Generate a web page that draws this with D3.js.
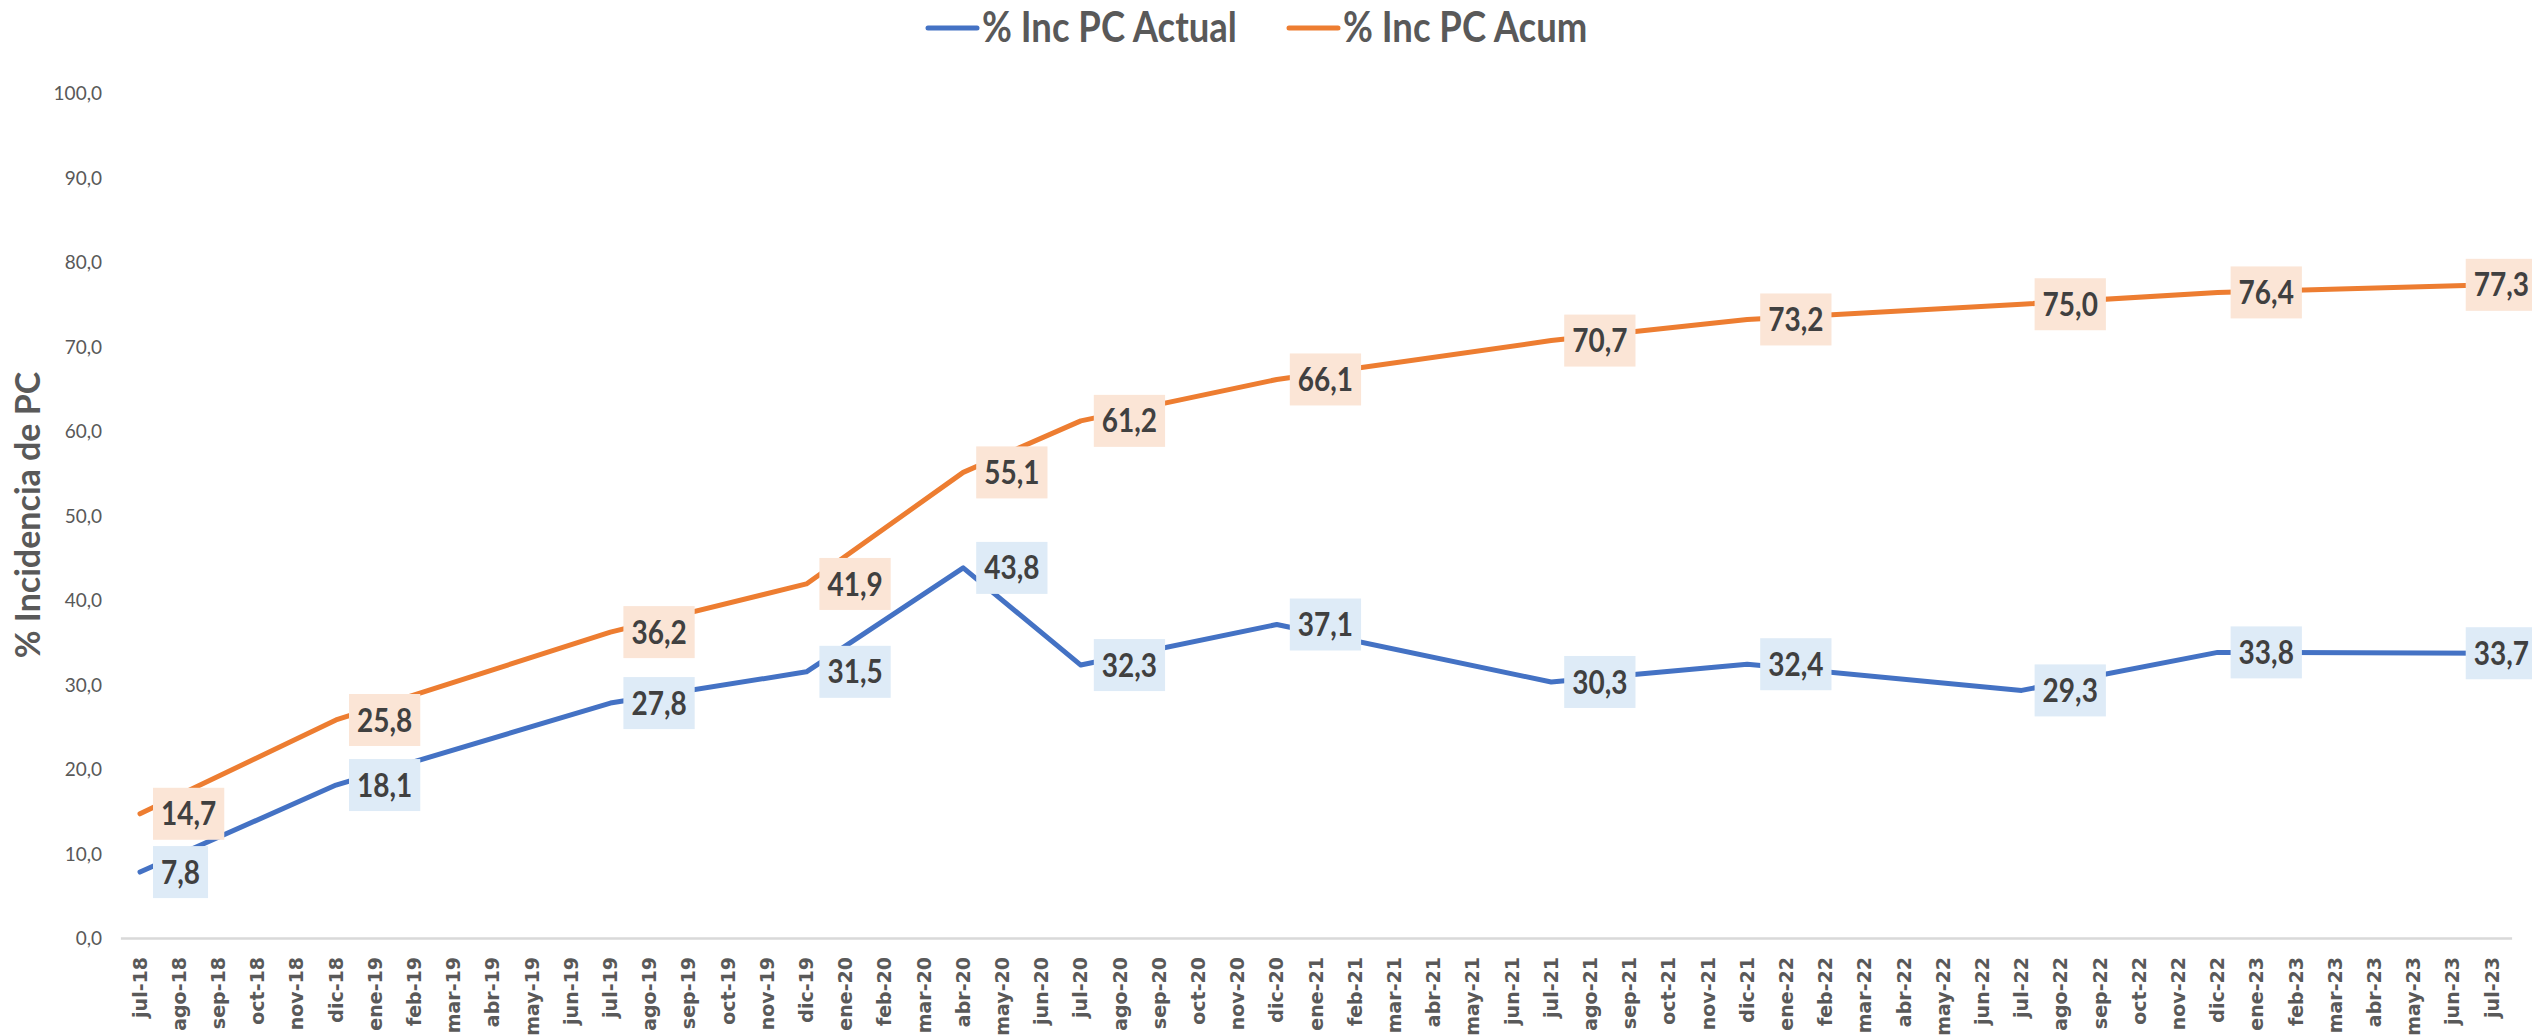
<!DOCTYPE html>
<html>
<head>
<meta charset="utf-8">
<script src="https://cdn.jsdelivr.net/npm/d3@7"></script>
<style>
  html, body { margin: 0; padding: 0; background: #fff; }
  svg { display: block; }
</style>
</head>
<body>
<svg id="chart" width="2532" height="1036"></svg>
<script>
// ---------- data ----------
const months = [
  "jul-18","ago-18","sep-18","oct-18","nov-18","dic-18",
  "ene-19","feb-19","mar-19","abr-19","may-19","jun-19","jul-19","ago-19","sep-19","oct-19","nov-19","dic-19",
  "ene-20","feb-20","mar-20","abr-20","may-20","jun-20","jul-20","ago-20","sep-20","oct-20","nov-20","dic-20",
  "ene-21","feb-21","mar-21","abr-21","may-21","jun-21","jul-21","ago-21","sep-21","oct-21","nov-21","dic-21",
  "ene-22","feb-22","mar-22","abr-22","may-22","jun-22","jul-22","ago-22","sep-22","oct-22","nov-22","dic-22",
  "ene-23","feb-23","mar-23","abr-23","may-23","jun-23","jul-23"
];
const pointMonths = ["jul-18","dic-18","jul-19","dic-19","abr-20","jul-20","dic-20","jul-21","dic-21","jul-22","dic-22","jul-23"];
const incActual = [7.8, 18.1, 27.8, 31.5, 43.8, 32.3, 37.1, 30.3, 32.4, 29.3, 33.8, 33.7];
const incAcum   = [14.7, 25.8, 36.2, 41.9, 55.1, 61.2, 66.1, 70.7, 73.2, 75.0, 76.4, 77.3];
const yTicks = [0, 10, 20, 30, 40, 50, 60, 70, 80, 90, 100];
const seriesNames = ["% Inc PC Actual", "% Inc PC Acum"];
const yTitle = "% Incidencia de PC";

// ---------- setup ----------
const svg = d3.select("#chart");
const W = 2532, H = 1036;
svg.append("rect").attr("width", W).attr("height", H).attr("fill", "#fff");

const plotL = 120.4, step = 39.2;
const x = d3.scaleBand().domain(months).range([plotL, plotL + step * months.length]).padding(0);
const y = d3.scaleLinear().domain([0, 100]).range([938, 93]);
const cx = m => x(m) + x.bandwidth() / 2;

const loc = d3.formatLocale({decimal: ",", thousands: ".", grouping: [3], currency: ["", ""]});
const fmt = loc.format(".1f");

const colors = { actual: "#4472C4", acum: "#ED7D31" };
const boxFill = { actual: "#DEEBF7", acum: "#FBE5D6" };
const gray = "#595959";

// ---------- y axis (labels only) ----------
const yAxis = d3.axisLeft(y).tickValues(yTicks).tickFormat(fmt).tickSize(0).tickPadding(0);
const gy = svg.append("g").attr("transform", "translate(102,0)").call(yAxis);
gy.select(".domain").remove();
gy.selectAll("text")
  .attr("font-family", "Lato, 'Open Sans', sans-serif")
  .attr("font-size", 19)
  .attr("fill", gray)
  .attr("dy", "0.36em");

// ---------- x axis ----------
const xAxis = d3.axisBottom(x).tickSize(0).tickPadding(0);
const gx = svg.append("g").attr("transform", "translate(0,938)").call(xAxis);
gx.select(".domain")
  .attr("stroke", "#D9D9D9")
  .attr("stroke-width", 2.5);
gx.selectAll("text")
  .attr("font-family", "'DejaVu Sans', Verdana, sans-serif")
  .attr("font-weight", "bold")
  .attr("font-size", 19)
  .attr("fill", gray)
  .attr("text-anchor", "end")
  .attr("dy", "0.35em")
  .attr("transform", "translate(0,19) rotate(-90)")
  .attr("y", 0)
  .attr("x", 0);

// ---------- y title ----------
svg.append("text")
  .attr("transform", "translate(40,515) rotate(-90)")
  .attr("text-anchor", "middle")
  .attr("font-family", "Lato, sans-serif")
  .attr("font-weight", "bold")
  .attr("font-size", 34)
  .attr("fill", gray)
  .text(yTitle);

// ---------- lines ----------
const line = d3.line().x(d => cx(d.m)).y(d => y(d.v));
const sActual = pointMonths.map((m, i) => ({ m, v: incActual[i] }));
const sAcum = pointMonths.map((m, i) => ({ m, v: incAcum[i] }));

[[sAcum, colors.acum], [sActual, colors.actual]].forEach(([data, col]) => {
  svg.append("path")
    .datum(data)
    .attr("d", line)
    .attr("fill", "none")
    .attr("stroke", col)
    .attr("stroke-width", 5)
    .attr("stroke-linejoin", "round")
    .attr("stroke-linecap", "round");
});

// ---------- data labels ----------
function drawLabels(data, fill) {
  data.forEach(d => {
    const px = cx(d.m), py = y(d.v);
    const g = svg.append("g");
    const rect = g.append("rect").attr("fill", fill);
    const t = g.append("text")
      .attr("font-family", "Lato, sans-serif")
      .attr("font-weight", "bold")
      .attr("font-size", 28)
      .attr("fill", "#404040")
      .attr("text-anchor", "middle")
      .attr("dy", "0.36em")
      .text(fmt(d.v));
    const tw = t.node().getComputedTextLength();
    const bw = tw + 16, bh = 52;
    const bx = Math.min(px + 13, 2537 - bw);
    rect.attr("x", bx).attr("y", py - bh / 2).attr("width", bw).attr("height", bh);
    t.attr("transform", `translate(${bx + bw / 2},${py}) scale(1,1.15)`);
  });
}
drawLabels(sAcum, boxFill.acum);
drawLabels(sActual, boxFill.actual);

// ---------- legend ----------
const legend = [
  { name: seriesNames[0], col: colors.actual, x0: 928 },
  { name: seriesNames[1], col: colors.acum, x0: 1289 }
];
legend.forEach(l => {
  svg.append("line")
    .attr("x1", l.x0).attr("x2", l.x0 + 49)
    .attr("y1", 28).attr("y2", 28)
    .attr("stroke", l.col).attr("stroke-width", 5).attr("stroke-linecap", "round");
  svg.append("text")
    .attr("font-family", "Lato, sans-serif")
    .attr("font-weight", "bold")
    .attr("font-size", 36.5)
    .attr("fill", gray)
    .attr("transform", `translate(${l.x0 + 54},42) scale(1,1.15)`)
    .text(l.name);
});
</script>
</body>
</html>
